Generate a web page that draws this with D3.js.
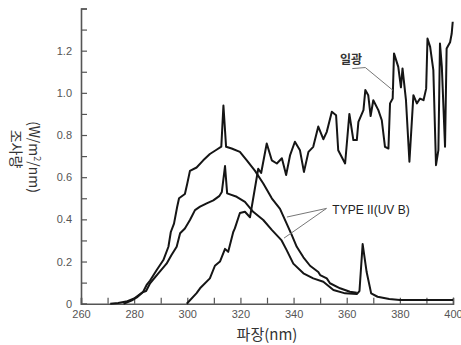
<!DOCTYPE html>
<html>
<head>
<meta charset="utf-8">
<script src="https://cdn.jsdelivr.net/npm/d3@7"></script>
<style>
  html, body { margin: 0; padding: 0; background: #fff; }
  svg { display: block; font-family: "Noto Sans CJK KR", "Noto Sans", sans-serif; }
</style>
</head>
<body>
<svg id="chart" width="461" height="345"></svg>
<script>
// ─── Data (wavelength nm, irradiance W/m²/nm) ────────────────────────────────
const xTicks = [260, 280, 300, 320, 340, 360, 380, 400];
const yTickLabels = [0, 0.2, 0.4, 0.6, 0.8, 1.0, 1.2];

// 일광 (sunlight)
const sunWl  = [299.8, 303.5, 304.8, 308.5, 310.4, 312.3, 314.2, 315.4, 317.3, 317.9, 319.8, 321.7, 323.6, 326.7, 327.8, 329.9, 331.8, 333.7, 335.6, 337.2, 338.7, 340.5, 342.4, 343.9, 345.6, 347.4, 349.3, 351.2, 352.5, 354.4, 356.0, 356.8, 359.4, 361.0, 362.5, 363.8, 364.4, 366.3, 367.0, 368.1, 369.0, 370.0, 371.9, 373.2, 374.4, 375.7, 376.3, 377.3, 377.8, 379.4, 380.4, 381.0, 382.3, 383.6, 385.1, 386.4, 387.6, 388.9, 389.9, 390.4, 391.4, 392.6, 393.6, 394.5, 395.1, 395.8, 397.0, 397.6, 398.9, 399.5, 399.9];
const sunVal = [0, 0.05, 0.073, 0.12, 0.18, 0.2, 0.26, 0.246, 0.34, 0.357, 0.43, 0.436, 0.41, 0.64, 0.62, 0.76, 0.68, 0.665, 0.69, 0.61, 0.705, 0.768, 0.728, 0.625, 0.72, 0.744, 0.84, 0.78, 0.815, 0.91, 0.894, 0.728, 0.665, 0.9, 0.776, 0.776, 0.862, 0.918, 1.013, 0.989, 0.89, 0.965, 0.918, 0.87, 0.744, 0.736, 0.95, 0.973, 1.187, 1.123, 1.026, 1.116, 0.965, 0.673, 0.989, 0.95, 0.973, 0.965, 1.02, 1.258, 1.218, 1.108, 0.657, 0.728, 1.234, 1.123, 0.744, 1.21, 1.24, 1.28, 1.337];

// TYPE II(UV B) - upper curve
const lampAWl  = [271, 274, 277, 280, 283.4, 284.7, 286, 288.5, 291, 292.9, 293.8, 295, 296.2, 296.9, 299.1, 300, 301, 303.5, 306, 308.5, 311, 312.8, 313.6, 314.6, 316.7, 319.8, 322.4, 325.5, 328.6, 331.8, 334.9, 337.4, 339.3, 341.2, 343.7, 346.2, 349.3, 350, 352.5, 353.7, 357.5, 361.2, 363.8];
const lampAVal = [0, 0.003, 0.01, 0.025, 0.057, 0.089, 0.11, 0.16, 0.207, 0.27, 0.34, 0.38, 0.46, 0.5, 0.52, 0.57, 0.63, 0.646, 0.68, 0.71, 0.73, 0.745, 0.94, 0.744, 0.736, 0.72, 0.68, 0.63, 0.57, 0.5, 0.45, 0.38, 0.326, 0.27, 0.22, 0.18, 0.15, 0.136, 0.12, 0.097, 0.073, 0.057, 0.052];

// TYPE II(UV B) - lower curve
const lampBWl  = [276, 279, 281, 283.4, 284.5, 286, 289.1, 292.2, 294, 296, 297.3, 299.1, 301, 302.9, 304.8, 307.3, 309.8, 312, 313, 314.2, 315, 318.6, 321.7, 324.8, 328.6, 331.8, 335.5, 337.4, 339.9, 343.7, 347.4, 351.2, 355, 359.4, 363.8, 364.8, 366, 367.5, 369.2, 371.6, 376, 380, 390, 400];
const lampBVal = [0, 0.015, 0.03, 0.055, 0.06, 0.097, 0.144, 0.19, 0.23, 0.27, 0.334, 0.357, 0.397, 0.444, 0.46, 0.476, 0.49, 0.51, 0.53, 0.653, 0.523, 0.507, 0.483, 0.436, 0.397, 0.35, 0.30, 0.254, 0.19, 0.144, 0.12, 0.104, 0.065, 0.049, 0.046, 0.06, 0.283, 0.15, 0.049, 0.033, 0.022, 0.017, 0.017, 0.017];

// ─── Layout ──────────────────────────────────────────────────────────────────
const svg = d3.select("#chart");
const x = d3.scaleLinear().domain([260, 400]).range([81, 453]);
const y = d3.scaleLinear().domain([0, 1.4]).range([303.7, 8.5]);

const axisColor = "#555";

// ─── Axes ────────────────────────────────────────────────────────────────────
const xAxis = svg.append("g")
    .attr("transform", `translate(0,${y(0)})`)
    .call(d3.axisBottom(x).tickValues(d3.range(260, 401, 10)).tickSize(-6).tickPadding(7)
        .tickFormat(d => xTicks.includes(d) ? d : ""));
xAxis.select(".domain").attr("stroke", axisColor).attr("stroke-width", 1.6);
xAxis.selectAll(".tick line").attr("stroke", axisColor).attr("stroke-width", 1.2);
xAxis.selectAll(".tick text").attr("fill", "#555").attr("font-size", 11)
    .attr("font-family", "Liberation Sans, Arial, sans-serif");

const yAxis = svg.append("g")
    .attr("transform", `translate(${x(260)},0)`)
    .call(d3.axisLeft(y).tickValues(d3.range(0, 15).map(i => i / 10)).tickSize(-6).tickPadding(9)
        .tickFormat(d => {
            const hit = yTickLabels.find(v => Math.abs(v - d) < 1e-6);
            return hit === undefined ? "" : (hit === 0 ? "0" : d3.format(".1f")(hit));
        }));
yAxis.select(".domain").attr("stroke", axisColor).attr("stroke-width", 1.6);
yAxis.selectAll(".tick line").attr("stroke", axisColor).attr("stroke-width", 1.2);
yAxis.selectAll(".tick text").attr("fill", "#555").attr("font-size", 11)
    .attr("font-family", "Liberation Sans, Arial, sans-serif");

// ─── Series ──────────────────────────────────────────────────────────────────
const line = d3.line().x(d => x(d[0])).y(d => y(d[1]));
const series = [
    d3.zip(lampAWl, lampAVal),
    d3.zip(lampBWl, lampBVal),
    d3.zip(sunWl, sunVal),
];
svg.append("g").selectAll("path").data(series).join("path")
    .attr("d", line)
    .attr("fill", "none")
    .attr("stroke", "#151515")
    .attr("stroke-width", 2)
    .attr("stroke-linejoin", "round");

// ─── Annotations ─────────────────────────────────────────────────────────────
const leader = d3.line().x(d => x(d[0])).y(d => y(d[1]));
svg.append("path")
    .attr("d", leader([[362.1, 1.115], [367.0, 1.12], [377.4, 1.012]]))
    .attr("fill", "none").attr("stroke", "#777").attr("stroke-width", 1);
svg.append("text")
    .attr("x", x(357.5)).attr("y", y(1.135))
    .attr("font-size", 12).attr("font-weight", "bold").attr("fill", "#333")
    .text("일광");

svg.append("path")
    .attr("d", leader([[337.5, 0.411], [352.4, 0.452], [336.4, 0.311]]))
    .attr("fill", "none").attr("stroke", "#777").attr("stroke-width", 1);
svg.append("text")
    .attr("x", x(354.6)).attr("y", y(0.425))
    .attr("font-size", 12).attr("fill", "#222")
    .attr("font-family", "Liberation Sans, Arial, sans-serif")
    .text("TYPE II(UV B)");

// ─── Axis titles ─────────────────────────────────────────────────────────────
svg.append("text")
    .attr("x", x(330)).attr("y", 340)
    .attr("text-anchor", "middle")
    .attr("font-size", 15).attr("fill", "#333")
    .text("파장(nm)");

const yTitle = svg.append("text")
    .attr("transform", "translate(34,157) rotate(90)")
    .attr("text-anchor", "middle")
    .attr("font-size", 14).attr("fill", "#333");
yTitle.append("tspan").attr("x", 0).attr("dy", "0.35em").text("(W/m")
    .append("tspan").attr("font-size", 9).attr("dy", "-0.5em").text("2");
yTitle.append("tspan").attr("dy", "0.3em").text("/nm)");
yTitle.append("tspan").attr("x", -8).attr("dy", "1.35em").text("조사량");
</script>
</body>
</html>
